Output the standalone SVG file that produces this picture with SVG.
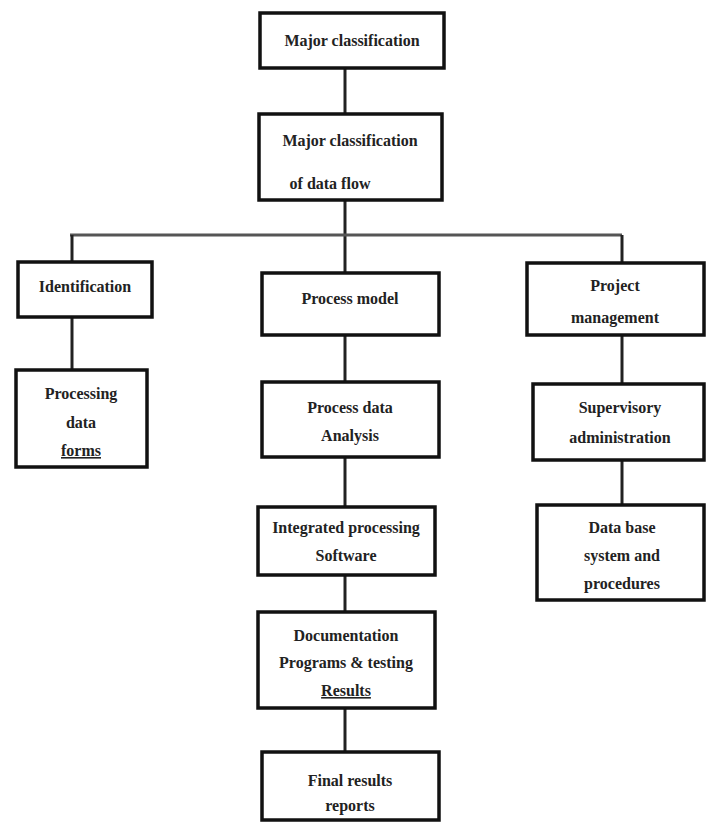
<svg xmlns="http://www.w3.org/2000/svg" width="706" height="823" viewBox="0 0 706 823">
<style>
.box{fill:#fff;stroke:#111;stroke-width:3.5}
.t{font-family:"Liberation Serif",serif;font-size:16px;font-weight:bold;fill:#222;text-anchor:middle}
.c{stroke:#222;stroke-width:3;fill:none}
.h{stroke:#555;stroke-width:3;fill:none}
</style>
<rect width="706" height="823" fill="#fff"/>
<g id="connectors">
<line class="c" x1="345" y1="68" x2="345" y2="114"/>
<line class="c" x1="345" y1="200" x2="345" y2="273"/>
<line class="h" x1="70" y1="235" x2="622" y2="235"/>
<line class="c" x1="72" y1="235" x2="72" y2="262"/>
<line class="c" x1="622" y1="235" x2="622" y2="263"/>
<line class="c" x1="72" y1="317" x2="72" y2="370"/>
<line class="c" x1="345" y1="335" x2="345" y2="382"/>
<line class="c" x1="345" y1="457" x2="345" y2="507"/>
<line class="c" x1="345" y1="575" x2="345" y2="612"/>
<line class="c" x1="345" y1="708" x2="345" y2="752"/>
<line class="c" x1="622" y1="335" x2="622" y2="384"/>
<line class="c" x1="622" y1="460" x2="622" y2="505"/>
</g>
<g id="n1"><rect class="box" x="260" y="13" width="184" height="55"/><text class="t" x="352" y="46">Major classification</text></g>
<g id="n2"><rect class="box" x="259" y="114" width="183" height="86"/><text class="t" x="350" y="146">Major classification</text><text class="t" x="330" y="189">of data flow</text></g>
<g id="n3"><rect class="box" x="18" y="262" width="134" height="55"/><text class="t" x="85" y="292">Identification</text></g>
<g id="n4"><rect class="box" x="16" y="370" width="131" height="97"/><text class="t" x="81" y="399">Processing</text><text class="t" x="81" y="428">data</text><text class="t" x="81" y="456" text-decoration="underline">forms</text></g>
<g id="n5"><rect class="box" x="262" y="273" width="177" height="62"/><text class="t" x="350" y="304">Process model</text></g>
<g id="n6"><rect class="box" x="262" y="382" width="177" height="75"/><text class="t" x="350" y="413">Process data</text><text class="t" x="350" y="441">Analysis</text></g>
<g id="n7"><rect class="box" x="258" y="507" width="177" height="68"/><text class="t" x="346" y="533">Integrated processing</text><text class="t" x="346" y="561">Software</text></g>
<g id="n8"><rect class="box" x="258" y="612" width="177" height="96"/><text class="t" x="346" y="641">Documentation</text><text class="t" x="346" y="668">Programs &amp; testing</text><text class="t" x="346" y="696" text-decoration="underline">Results</text></g>
<g id="n9"><rect class="box" x="262" y="752" width="177" height="68"/><text class="t" x="350" y="786">Final results</text><text class="t" x="350" y="811">reports</text></g>
<g id="n10"><rect class="box" x="527" y="263" width="177" height="72"/><text class="t" x="615" y="291">Project</text><text class="t" x="615" y="323">management</text></g>
<g id="n11"><rect class="box" x="533" y="384" width="171" height="76"/><text class="t" x="620" y="413">Supervisory</text><text class="t" x="620" y="443">administration</text></g>
<g id="n12"><rect class="box" x="537" y="505" width="167" height="95"/><text class="t" x="622" y="533">Data base</text><text class="t" x="622" y="561">system and</text><text class="t" x="622" y="589">procedures</text></g>
</svg>
